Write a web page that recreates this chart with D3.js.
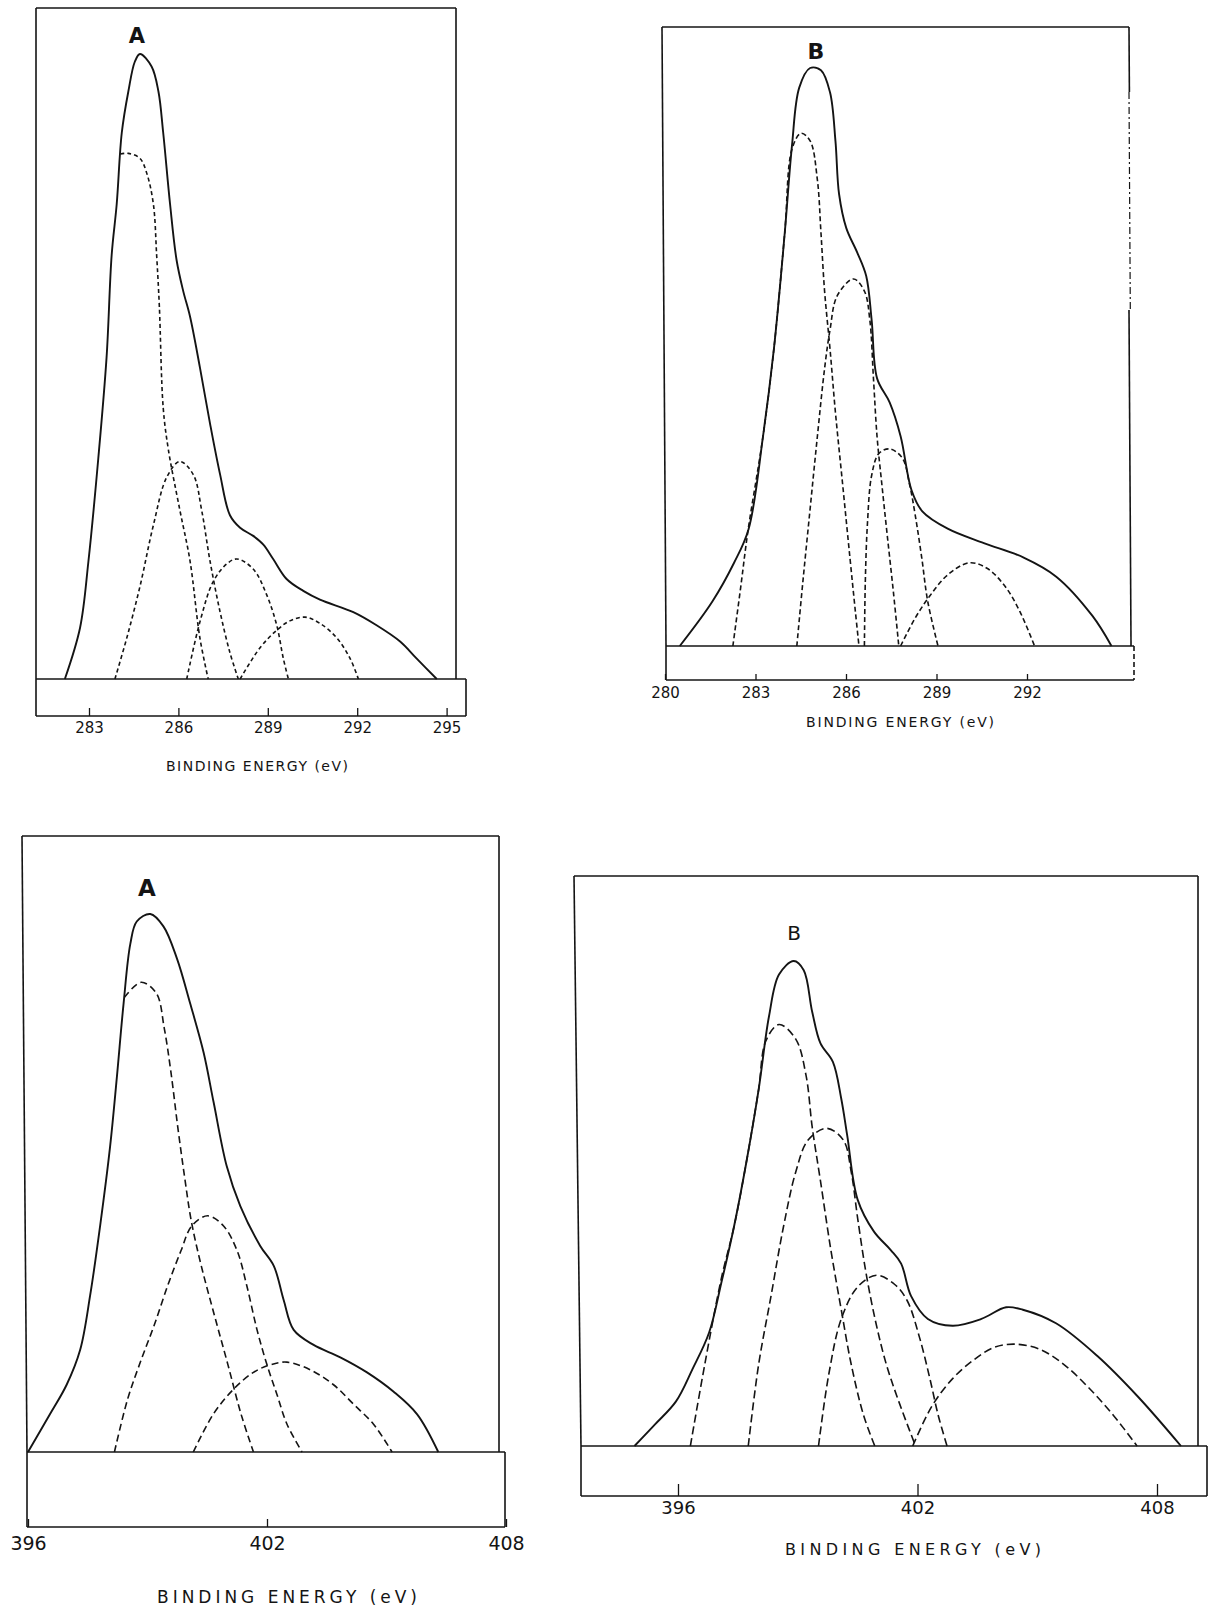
<!DOCTYPE html>
<html>
<head>
<meta charset="utf-8">
<script src="https://cdn.jsdelivr.net/npm/d3@7"></script>
<style>
  body { margin: 0; background: #fff; }
  svg { display: block; font-family: "DejaVu Sans", sans-serif; }
</style>
</head>
<body>
<div id="chart"></div>
<script>
// XPS curve fits: C 1s (top) and N 1s (bottom) for samples A and B.
// Each series is a list of [binding energy (eV), intensity (a.u.)].

// --- C 1s, sample A ---
const c1sTicksA = [283, 286, 289, 292, 295];
const c1sA_total = [[282.19,0],[282.70,8.2],[282.98,18.8],[283.31,35.2],[283.59,51.5],[283.76,67.8],[283.93,76.0],[284.10,87.4],[284.32,94.0],[284.54,98.8],[284.71,100],[285.10,98.0],[285.33,94.0],[285.49,87.4],[285.72,76.0],[285.94,67.0],[286.16,62.1],[286.39,58.0],[286.72,49.9],[287.06,40.9],[287.40,32.7],[287.73,26.2],[288.07,24.2],[288.51,22.9],[288.85,21.5],[289.18,19.2],[289.63,16.0],[290.19,14.1],[290.75,12.7],[291.87,10.7],[292.65,8.6],[293.44,6.0],[293.99,3.3],[294.67,0]];
const c1sA_peak1 = [[284.05,84.0],[284.32,84.1],[284.71,83.3],[284.94,80.9],[285.16,76.0],[285.27,67.8],[285.36,59.7],[285.49,43.4],[285.66,36.8],[286.05,27.0],[286.39,18.9],[286.72,6.6],[287.00,0]];
const c1sA_peak2 = [[283.87,0],[284.27,6.6],[284.71,14.8],[285.16,24.6],[285.61,32.3],[286.05,34.8],[286.50,32.7],[286.78,27.0],[287.06,18.9],[287.40,10.7],[287.73,4.2],[288.01,0]];
const c1sA_peak3 = [[286.28,0],[286.72,9.1],[287.17,15.6],[287.62,18.4],[287.96,19.2],[288.51,17.6],[288.96,13.5],[289.30,8.6],[289.52,3.3],[289.69,0]];
const c1sA_peak4 = [[288.07,0],[288.74,5.0],[289.30,7.8],[289.74,9.3],[290.25,9.9],[290.75,8.9],[291.31,6.6],[291.76,3.3],[292.04,0]];

// --- C 1s, sample B ---
const c1sTicksB = [280, 283, 286, 289, 292];
const c1sB_total = [[280.49,0],[281.57,7.7],[282.29,14.4],[282.77,20.2],[283.25,36.3],[283.61,51.4],[283.97,71.5],[284.21,86.6],[284.45,96.6],[284.81,100],[285.17,99.6],[285.47,95.8],[285.65,87.4],[285.77,78.2],[286.01,72.3],[286.37,68.1],[286.67,64.0],[286.85,56.4],[287.03,46.3],[287.45,42.1],[287.81,36.3],[288.17,27.0],[288.53,23.3],[289.37,20.3],[290.57,17.8],[291.89,15.3],[292.97,12.0],[294.17,5.2],[294.80,0]];
const c1sB_peak1 = [[282.25,0],[282.51,10.2],[282.75,19.9],[283.25,36.3],[283.61,51.4],[283.97,71.5],[284.21,86.0],[284.51,88.7],[284.81,87.4],[285.05,80.7],[285.17,71.5],[285.29,61.4],[285.47,51.4],[285.65,40.4],[285.89,27.9],[286.13,15.3],[286.31,6.0],[286.43,0]];
const c1sB_peak2 = [[284.37,0],[284.57,11.1],[284.81,23.7],[285.05,36.2],[285.29,48.0],[285.47,54.7],[285.71,60.6],[286.25,63.5],[286.61,61.4],[286.79,56.4],[286.91,46.3],[287.03,36.2],[287.19,27.9],[287.36,19.5],[287.57,9.4],[287.75,0]];
const c1sB_peak3 = [[286.61,0],[286.64,11.1],[286.71,21.1],[286.85,29.5],[287.09,33.3],[287.45,34.1],[287.87,32.5],[288.11,27.9],[288.29,22.8],[288.51,15.3],[288.71,7.7],[289.05,0]];
const c1sB_peak4 = [[287.81,0],[288.29,4.8],[288.77,8.6],[289.37,12.3],[290.09,14.4],[290.69,13.4],[291.29,10.2],[291.77,5.9],[292.25,0]];

// --- N 1s, sample A ---
const n1sTicks = [396, 402, 408];
const n1sA_total = [[396.00,0],[396.55,7.0],[396.97,12.5],[397.31,19.0],[397.56,29.1],[397.81,42.0],[398.06,56.7],[398.23,69.6],[398.40,83.4],[398.57,94.5],[398.73,98.6],[399.07,100],[399.40,97.7],[399.74,91.7],[400.07,83.4],[400.41,74.2],[400.66,65.0],[400.99,53.1],[401.33,45.7],[401.83,38.3],[402.17,34.6],[402.42,28.2],[402.67,22.7],[403.17,19.9],[403.84,17.6],[404.51,14.8],[405.18,11.2],[405.77,7.0],[406.30,0]];
const n1sA_peak1 = [[398.42,84.5],[398.84,87.3],[399.22,85.3],[399.42,78.8],[399.59,70.5],[399.76,60.4],[399.93,51.2],[400.10,42.9],[400.35,34.6],[400.68,25.4],[401.02,16.2],[401.35,7.0],[401.66,0]];
const n1sA_peak2 = [[398.17,0],[398.50,9.8],[398.84,17.1],[399.17,23.6],[399.51,31.0],[399.84,37.4],[400.11,42.0],[400.51,43.9],[400.91,42.0],[401.25,37.4],[401.49,31.0],[401.75,22.7],[402.00,16.2],[402.25,10.7],[402.50,5.2],[402.88,0]];
const n1sA_peak3 = [[400.15,0],[400.65,7.0],[401.15,11.6],[401.66,14.8],[402.08,16.2],[402.50,16.7],[403.08,15.3],[403.67,12.5],[404.17,8.9],[404.67,5.2],[405.14,0]];

// --- N 1s, sample B ---
const n1sB_total = [[394.91,0],[395.43,4.5],[395.95,9.2],[396.36,15.8],[396.78,23.4],[397.09,33.8],[397.40,45.1],[397.71,58.4],[398.02,73.5],[398.28,88.6],[398.53,97.2],[398.90,100],[399.15,98.1],[399.36,89.6],[399.57,83.0],[399.88,79.2],[400.09,71.6],[400.24,64.0],[400.50,50.8],[400.91,44.2],[401.33,40.4],[401.59,37.6],[401.84,30.9],[402.26,26.2],[402.88,24.8],[403.60,26.2],[404.22,28.6],[404.64,28.1],[405.47,25.3],[406.50,18.6],[407.53,10.1],[408.60,0]];
const n1sB_peak1 = [[396.31,0],[396.67,16.8],[397.09,34.7],[397.40,45.1],[397.71,58.4],[398.02,73.5],[398.20,83.5],[398.53,86.9],[398.95,83.9],[399.21,76.3],[399.36,65.9],[399.57,54.6],[399.83,40.4],[400.09,28.1],[400.34,16.8],[400.65,6.3],[400.93,0]];
const n1sB_peak2 = [[397.76,0],[398.02,16.8],[398.33,30.9],[398.64,45.1],[398.95,56.5],[399.26,63.1],[399.72,65.5],[400.14,63.1],[400.34,56.5],[400.50,47.0],[400.71,35.7],[400.96,25.3],[401.22,16.8],[401.53,9.2],[401.95,0]];
const n1sB_peak3 = [[399.52,0],[399.78,14.9],[400.09,26.2],[400.50,32.8],[400.97,35.2],[401.43,33.3],[401.74,30.0],[402.05,22.4],[402.31,13.9],[402.52,6.3],[402.74,0]];
const n1sB_peak4 = [[401.88,0],[402.36,8.2],[402.88,13.9],[403.40,17.7],[403.91,20.3],[404.43,21.0],[405.05,20.0],[405.67,16.8],[406.29,12.0],[406.91,6.3],[407.50,0]];

const width = 1208;
const height = 1616;
const ink = "#141414";

const svg = d3.select("#chart")
    .append("svg")
    .attr("width", width)
    .attr("height", height);

svg.append("rect").attr("width", width).attr("height", height).attr("fill", "#fff");

// layout of each panel (pixel geometry of the original figure)
const panels = [
    {
        label: "A", labelBold: true, labelPos: [137, 36], labelSize: 21,
        box: { x0: 36, x1: 456, top: 8, base: 679 },
        strip: { x0: 36, x1: 466, bottom: 716 },
        ticks: c1sTicksA, xRange: [89, 446.6], yRange: [679, 54],
        tickLen: 8, tickFont: 15, tickY: 728,
        title: [257, 766], titleW: 182, titleFont: 14,
        total: c1sA_total, parts: [c1sA_peak1, c1sA_peak2, c1sA_peak3, c1sA_peak4],
        dash: "4,3"
    },
    {
        label: "B", labelBold: true, labelPos: [816, 51], labelSize: 22,
        box: { x0: 662, x1: 1129, top: 27, base: 646 },
        strip: { x0: 666, x1: 1134, bottom: 680 },
        ticks: c1sTicksB, xRange: [665, 1027], yRange: [646, 68],
        tickLen: 6, tickFont: 15, tickY: 693,
        title: [900, 722], titleW: 188, titleFont: 14,
        total: c1sB_total, parts: [c1sB_peak1, c1sB_peak2, c1sB_peak3, c1sB_peak4],
        dash: "5,3", brokenRight: [[27, 92, null], [92, 310, "7,3,2,3"], [310, 646, null]]
    },
    {
        label: "A", labelBold: true, labelPos: [147, 888], labelSize: 23,
        box: { x0: 22, x1: 499, top: 836, base: 1452 },
        strip: { x0: 27, x1: 505, bottom: 1527 },
        ticks: n1sTicks, xRange: [28, 506], yRange: [1452, 914],
        tickLen: 8, tickFont: 19, tickY: 1543,
        title: [287, 1597], titleW: 260, titleFont: 17,
        total: n1sA_total, parts: [n1sA_peak1, n1sA_peak2, n1sA_peak3],
        dash: "7,4"
    },
    {
        label: "B", labelBold: false, labelPos: [794, 933], labelSize: 20,
        box: { x0: 574, x1: 1198, top: 876, base: 1446 },
        strip: { x0: 581, x1: 1207, bottom: 1496 },
        ticks: n1sTicks, xRange: [678, 1157], yRange: [1446, 961],
        tickLen: 12, tickFont: 18, tickY: 1508,
        title: [913, 1549], titleW: 256, titleFont: 16,
        total: n1sB_total, parts: [n1sB_peak1, n1sB_peak2, n1sB_peak3, n1sB_peak4],
        dash: "8,4"
    }
];

panels.forEach(p => {
    const g = svg.append("g");

    const x = d3.scaleLinear()
        .domain([p.ticks[0], p.ticks[p.ticks.length - 1]])
        .range(p.xRange);
    const y = d3.scaleLinear()
        .domain([0, 100])
        .range(p.yRange);

    // frame: plot box plus the strip underneath the baseline
    const frame = g.append("g")
        .attr("fill", "none")
        .attr("stroke", ink)
        .attr("stroke-width", 1.6);
    frame.append("line").attr("x1", p.box.x0).attr("x2", p.box.x1).attr("y1", p.box.top).attr("y2", p.box.top);
    frame.append("line").attr("x1", p.box.x0).attr("x2", p.strip.x0).attr("y1", p.box.top).attr("y2", p.box.base);
    frame.append("line").attr("x1", p.strip.x0).attr("x2", p.strip.x0).attr("y1", p.box.base).attr("y2", p.strip.bottom);
    frame.append("line").attr("x1", p.strip.x0).attr("x2", p.strip.x1).attr("y1", p.box.base).attr("y2", p.box.base);
    frame.append("line").attr("x1", p.strip.x0).attr("x2", p.strip.x1).attr("y1", p.strip.bottom).attr("y2", p.strip.bottom);

    if (p.brokenRight) {
        // the scanned right edge fades into a dash-dot line
        p.brokenRight.forEach(([y0, y1, dash]) => {
            const seg = frame.append("line")
                .attr("x1", p.box.x1).attr("x2", p.box.x1 + (y1 - y0) * 0.006)
                .attr("y1", y0).attr("y2", y1);
            if (dash) seg.attr("stroke-dasharray", dash).attr("stroke-width", 1.2);
        });
        frame.append("line")
            .attr("x1", p.strip.x1).attr("x2", p.strip.x1)
            .attr("y1", p.box.base).attr("y2", p.strip.bottom)
            .attr("stroke-dasharray", "5,3");
    } else {
        frame.append("line")
            .attr("x1", p.box.x1).attr("x2", p.box.x1)
            .attr("y1", p.box.top).attr("y2", p.box.base);
        frame.append("line")
            .attr("x1", p.strip.x1).attr("x2", p.strip.x1)
            .attr("y1", p.box.base).attr("y2", p.strip.bottom);
    }

    // axis: ticks rise from the bottom of the strip, labels below
    const axis = d3.axisBottom(x)
        .tickValues(p.ticks)
        .tickFormat(d3.format("d"))
        .tickSize(-p.tickLen)
        .tickPadding(0);
    const ax = g.append("g")
        .attr("transform", `translate(0,${p.strip.bottom})`)
        .call(axis);
    ax.select(".domain").remove();
    ax.selectAll(".tick line").attr("stroke", ink).attr("stroke-width", 1.3);
    ax.selectAll(".tick text")
        .attr("y", p.tickY - p.strip.bottom)
        .attr("dy", "0.35em")
        .attr("fill", ink)
        .style("font-family", "'DejaVu Sans', sans-serif")
        .style("font-size", p.tickFont + "px");

    // axis title
    g.append("text")
        .attr("x", p.title[0] - p.titleW / 2)
        .attr("y", p.title[1])
        .attr("dy", "0.35em")
        .attr("textLength", p.titleW)
        .attr("lengthAdjust", "spacing")
        .attr("fill", ink)
        .style("font-size", p.titleFont + "px")
        .text("BINDING ENERGY (eV)");

    // sample label
    g.append("text")
        .attr("x", p.labelPos[0])
        .attr("y", p.labelPos[1])
        .attr("dy", "0.35em")
        .attr("text-anchor", "middle")
        .attr("fill", ink)
        .style("font-size", p.labelSize + "px")
        .style("font-weight", p.labelBold ? "bold" : "normal")
        .text(p.label);

    const line = d3.line()
        .x(d => x(d[0]))
        .y(d => y(d[1]))
        .curve(d3.curveCatmullRom.alpha(0.5));

    // fitted components (dashed)
    g.append("g")
        .selectAll("path")
        .data(p.parts)
        .enter().append("path")
        .attr("d", line)
        .attr("fill", "none")
        .attr("stroke", ink)
        .attr("stroke-width", 1.6)
        .attr("stroke-dasharray", p.dash);

    // measured envelope (solid)
    g.append("path")
        .datum(p.total)
        .attr("d", line)
        .attr("fill", "none")
        .attr("stroke", ink)
        .attr("stroke-width", 1.9);
});
</script>
</body>
</html>
